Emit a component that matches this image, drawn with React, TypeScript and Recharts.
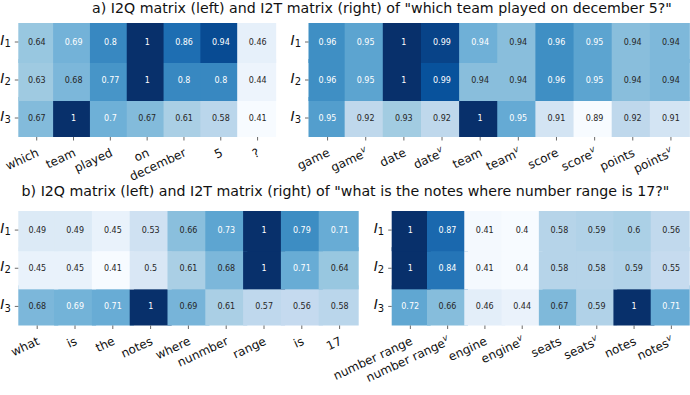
import React from 'react';
import { BarChart, Bar, XAxis, YAxis } from 'recharts';

// ---- Data ----
const rowLabels = ['1', '2', '3'];

const aQTokens = ['which', 'team', 'played', 'on', 'december', '5', '?'];
const aQRow1 = [0.64, 0.694, 0.8, 1, 0.86, 0.94, 0.46];
const aQRow2 = [0.63, 0.68, 0.77, 1, 0.8, 0.8, 0.44];
const aQRow3 = [0.67, 1, 0.7, 0.67, 0.61, 0.58, 0.41];

const aTTokens = ['game', 'game^v', 'date', 'date^v', 'team', 'team^v', 'score', 'score^v', 'points', 'points^v'];
const aTRow1 = [0.96, 0.95, 1, 0.992, 0.944, 0.937, 0.96, 0.95, 0.937, 0.94];
const aTRow2 = [0.96, 0.95, 1, 0.986, 0.937, 0.937, 0.96, 0.95, 0.937, 0.94];
const aTRow3 = [0.953, 0.92, 0.93, 0.92, 1, 0.947, 0.91, 0.89, 0.92, 0.91];

const bQTokens = ['what', 'is', 'the', 'notes', 'where', 'nunmber', 'range', 'is', '17'];
const bQRow1 = [0.49, 0.49, 0.45, 0.53, 0.66, 0.73, 1, 0.79, 0.71];
const bQRow2 = [0.45, 0.45, 0.41, 0.5, 0.61, 0.68, 1, 0.71, 0.64];
const bQRow3 = [0.68, 0.693, 0.71, 1, 0.688, 0.61, 0.57, 0.56, 0.58];

const bTTokens = ['number range', 'number range^v', 'engine', 'engine^v', 'seats', 'seats^v', 'notes', 'notes^v'];
const bTRow1 = [1, 0.87, 0.41, 0.4, 0.58, 0.59, 0.6, 0.56];
const bTRow2 = [1, 0.84, 0.41, 0.4, 0.58, 0.58, 0.59, 0.55];
const bTRow3 = [0.72, 0.66, 0.46, 0.44, 0.67, 0.59, 1, 0.71];

const titleA = 'a) I2Q matrix (left) and I2T matrix (right) of "which team played on december 5?"';
const titleB = 'b) I2Q matrix (left) and I2T matrix (right) of "what is the notes where number range is 17?"';

// ---- Colormap (matplotlib Blues) ----
const BLUES = [
  [247, 251, 255], [222, 235, 247], [198, 219, 239], [158, 202, 225], [107, 174, 214],
  [66, 146, 198], [33, 113, 181], [8, 81, 156], [8, 48, 107],
];
function blues(t: number): number[] {
  const tt = Math.max(0, Math.min(1, t)) * (BLUES.length - 1);
  const i = Math.min(BLUES.length - 2, Math.floor(tt));
  const f = tt - i;
  return BLUES[i].map((c, k) => c + (BLUES[i + 1][k] - c) * f);
}
function lum(rgb: number[]): number {
  const lin = rgb.map((c) => {
    const s = c / 255;
    return s <= 0.03928 ? s / 12.92 : Math.pow((s + 0.055) / 1.055, 2.4);
  });
  return 0.2126 * lin[0] + 0.7152 * lin[1] + 0.0722 * lin[2];
}
const fmt = (v: number) => String(Number(v.toPrecision(2)));

const FONT = '"DejaVu Sans", sans-serif';
const SEAM = 2; // overlap so neighbouring cells leave no hairline seams

const makeShape = (key: string, vmin: number, vmax: number, n: number, rowPos: number) => (props: any) => {
  const { x, y, width, height, payload, index } = props;
  const v = payload[key];
  const rgb = blues((v - vmin) / (vmax - vmin));
  const fill = `rgb(${rgb.map((c) => Math.round(c)).join(',')})`;
  const tc = lum(rgb) > 0.408 ? '#262626' : '#ffffff';
  const eL = index === 0 ? 0 : SEAM;
  const eR = index === n - 1 ? 0 : SEAM;
  const eT = rowPos === 0 ? 0 : SEAM;
  const eB = rowPos === 2 ? 0 : SEAM;
  return (
    <g>
      <rect x={x - eL} y={y - eT} width={width + eL + eR} height={height + eT + eB} fill={fill} />
      <text x={x + width / 2} y={y + height / 2} dy="0.36em" textAnchor="middle" fontSize={8} fill={tc} fontFamily={FONT}>
        {fmt(v)}
      </text>
    </g>
  );
};

const XTick = (props: any) => {
  const { x, y, payload } = props;
  const [base, sup] = String(payload.value).split('^');
  return (
    <text
      transform={`translate(${x + 3},${y + 15}) rotate(-25)`}
      textAnchor="end"
      fontSize={12}
      fill="#111"
      fontFamily={FONT}
    >
      {base}
      {sup ? (
        <tspan dy={-5} fontSize={8.5} fontStyle="italic">
          {sup}
        </tspan>
      ) : null}
    </text>
  );
};

const YTick = (props: any) => {
  const { x, y, payload } = props;
  const idx = 2 - Math.floor(payload.value);
  return (
    <text x={x} y={y} dy={2.7} textAnchor="end" fontSize={14} fill="#111" fontFamily={FONT}>
      <tspan fontStyle="italic">I</tspan>
      <tspan fontSize={10} dy={2.4}>
        {rowLabels[idx]}
      </tspan>
    </text>
  );
};

type HM = {
  tokens: string[];
  rows: number[][];
  left: number;
  top: number;
  width: number;
  height: number;
  mTop: number;
  mRight: number;
  yW: number;
  xH: number;
};

function Heatmap({ tokens, rows, left, top, width, height, mTop, mRight, yW, xH }: HM) {
  const all = rows.flat();
  const vmin = Math.min(...all);
  const vmax = Math.max(...all);
  const n = tokens.length;
  const data = tokens.map((t, i) => ({
    name: t,
    c1: 1,
    c2: 1,
    c3: 1,
    v1: rows[0][i],
    v2: rows[1][i],
    v3: rows[2][i],
  }));
  return (
    <div style={{ position: 'absolute', left, top, width, height }}>
      <BarChart
        width={width}
        height={height}
        data={data}
        margin={{ top: mTop, right: mRight, left: 0, bottom: 0 }}
        barCategoryGap={0}
        barGap={0}
      >
        <XAxis
          dataKey="name"
          type="category"
          interval={0}
          height={xH}
          axisLine={false}
          tickSize={3.5}
          tickMargin={0}
          tickLine={{ stroke: '#444', strokeWidth: 0.8 }}
          tick={<XTick />}
        />
        <YAxis
          type="number"
          domain={[0, 3]}
          ticks={[0.5, 1.5, 2.5]}
          width={yW}
          axisLine={false}
          tickSize={3.5}
          tickMargin={4}
          tickLine={{ stroke: '#444', strokeWidth: 0.8 }}
          tick={<YTick />}
        />
        <Bar dataKey="c3" stackId="s" shape={makeShape('v3', vmin, vmax, n, 2)} isAnimationActive={false} />
        <Bar dataKey="c2" stackId="s" shape={makeShape('v2', vmin, vmax, n, 1)} isAnimationActive={false} />
        <Bar dataKey="c1" stackId="s" shape={makeShape('v1', vmin, vmax, n, 0)} isAnimationActive={false} />
      </BarChart>
    </div>
  );
}

export default function App() {
  return (
    <div style={{ position: 'absolute', left: 0, top: 0, width: 690, height: 395, background: '#fff', fontFamily: FONT, overflow: 'hidden' }}>
      <Heatmap tokens={aQTokens} rows={[aQRow1, aQRow2, aQRow3]} left={0} top={0} width={290} height={190} mTop={23} mRight={14} yW={18.3} xH={53} />
      <Heatmap tokens={aTTokens} rows={[aTRow1, aTRow2, aTRow3]} left={250} top={0} width={440} height={190} mTop={23} mRight={0} yW={58.5} xH={53} />
      <Heatmap tokens={bQTokens} rows={[bQRow1, bQRow2, bQRow3]} left={0} top={190} width={362} height={205} mTop={21} mRight={3.5} yW={18.3} xH={69.5} />
      <Heatmap tokens={bTTokens} rows={[bTRow1, bTRow2, bTRow3]} left={290} top={190} width={400} height={205} mTop={21} mRight={0} yW={101.7} xH={69.5} />
      <svg width={690} height={395} style={{ position: 'absolute', left: 0, top: 0, pointerEvents: 'none' }}>
        <text x={382} y={13} textAnchor="middle" fontSize={14.2} fill="#111" fontFamily={FONT}>
          {titleA}
        </text>
        <text x={345.5} y={196} textAnchor="middle" fontSize={14.2} fill="#111" fontFamily={FONT}>
          {titleB}
        </text>
      </svg>
    </div>
  );
}
